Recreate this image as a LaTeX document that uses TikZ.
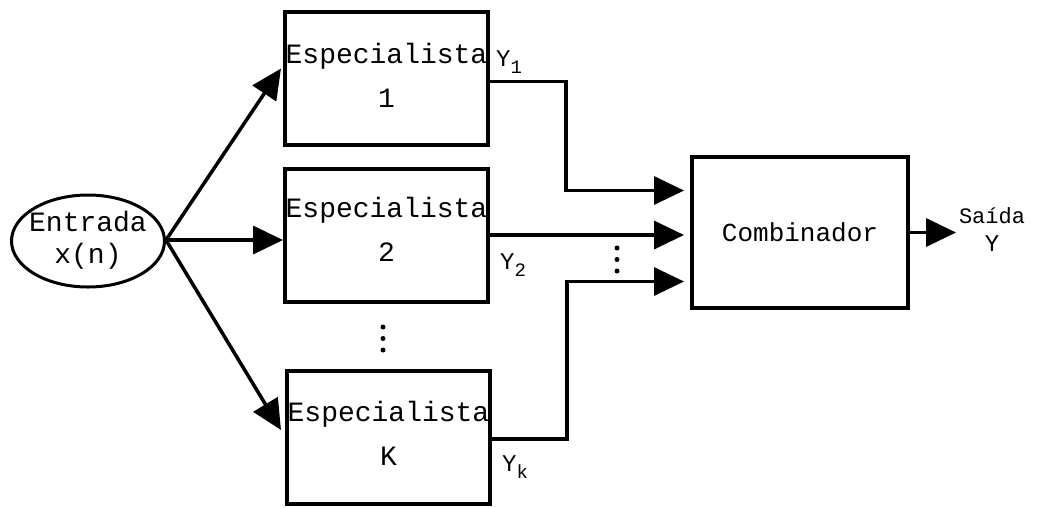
\documentclass[tikz,border=0pt]{standalone}
\usepackage{fontspec}
\setmainfont{Liberation Mono}
\usetikzlibrary{shapes.geometric,arrows.meta,calc}
\begin{document}
\begin{tikzpicture}[x=1pt,y=-1pt,
  spec/.style={draw,line width=4pt,minimum width=203pt,minimum height=133pt,inner sep=0pt},
  spectext/.style={align=center,inner sep=0pt,font=\fontsize{28}{44}\selectfont},
  conn/.style={line width=3.5pt},
  arr/.style={conn,-{Triangle[length=30pt,width=28pt]}},
  lab/.style={font=\fontsize{24}{26}\selectfont,inner sep=0pt},
  dot/.style={circle,fill,inner sep=0pt,minimum size=5pt}]
\useasboundingbox (0,0) rectangle (1038,507);
\node[draw,ellipse,line width=3pt,minimum width=153pt,minimum height=92pt,inner sep=0pt] (e) at (88,241) {};
\node[spectext,font=\fontsize{28}{32}\selectfont] (et) at (88,240) {Entrada\\x(n)};
\node[spec] (b1) at (386.5,78.5) {};
\node[spectext] (t1) at (386.5,75) {Especialista\\1};
\node[spec] (b2) at (386.5,235) {};
\node[spectext] (t2) at (386.5,229) {Especialista\\2};
\node[spec] (bk) at (388.5,437) {};
\node[spectext] (tk) at (388.5,433) {Especialista\\K};
\node[draw,line width=4pt,minimum width=216pt,minimum height=151pt,inner sep=0pt,
  font=\fontsize{26}{28}\selectfont] (c) at (800,232.5) {Combinador};
% inputs
\coordinate (src) at ($(e.east)+(0,-1)$);
\draw[arr] (src) -- ($(b1.west)+(-2,-10)$);
\draw[arr] (src) -- ($(b2.west)+(0,5)$);
\draw[arr] (src) -- ($(bk.west)+(-4,-7)$);
% outputs of specialists
\coordinate (i1) at ($(c.west)+(-6,-42)$);
\coordinate (i2) at ($(c.west |- b2.east)+(-6,0)$);
\coordinate (i3) at ($(c.west)+(-6,49)$);
\draw[arr] ($(b1.east)+(0,3)$) -- ++(76,0) |- (i1);
\draw[arr] (b2.east) -- (i2);
\draw[arr] ($(bk.east)+(0,2)$) -| ($(i3)+(-117,0)$) -- (i3);
\draw[arr] (c.east) -- ++(46,0) coordinate (o);
% labels
\node[lab] (y1) at (509,62) {Y\raisebox{-7pt}{\fontsize{19}{20}\selectfont 1}};
\node[lab] (y2) at (513,265) {Y\raisebox{-7pt}{\fontsize{19}{20}\selectfont 2}};
\node[lab] (yk) at (515,467) {Y\raisebox{-7pt}{\fontsize{19}{20}\selectfont k}};
\node[font=\fontsize{22}{24}\selectfont,inner sep=0pt] (s) at (992,216) {Saída};
\node[lab] (y) at (992,244) {Y};
% dots
\foreach \yy in {248,259.5,271} \node[dot] at (617,\yy) {};
\foreach \yy in {327,338.5,350} \node[dot] at (383,\yy) {};
\end{tikzpicture}
\end{document}
